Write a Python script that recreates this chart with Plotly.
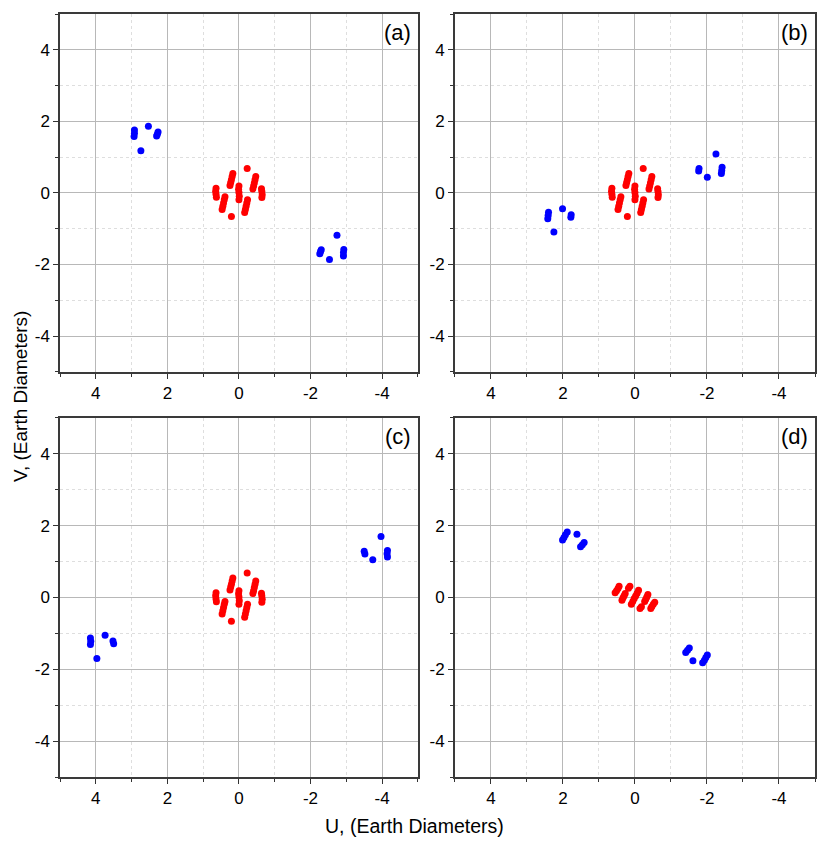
import plotly.graph_objects as go
from plotly.subplots import make_subplots

# red core cluster (same in panels a, b, c)
core_u = [0.64, 0.65, 0.64, 0.63,
          -0.64, -0.65, -0.64, -0.63,
          0.00, 0.01, 0.00, -0.01, 0.00,
          0.17, 0.19, 0.21, 0.23, 0.25,
          -0.16, -0.18, -0.20, -0.22, -0.24,
          -0.47, -0.45, -0.43, -0.41, -0.39,
          0.47, 0.45, 0.43, 0.41, 0.39,
          -0.23, 0.21]
core_v = [0.13, 0.05, -0.04, -0.12,
          -0.13, -0.05, 0.04, 0.12,
          0.19, 0.10, 0.01, -0.09, -0.19,
          0.54, 0.46, 0.37, 0.29, 0.21,
          -0.55, -0.46, -0.37, -0.28, -0.19,
          0.46, 0.37, 0.28, 0.19, 0.11,
          -0.46, -0.37, -0.28, -0.19, -0.11,
          0.68, -0.66]

# red core cluster, panel d
core_d_u = [0.55, 0.51, 0.47, 0.44,
            0.36, 0.33, 0.30, 0.27,
            0.18, 0.14,
            0.10, 0.06, 0.02, -0.02, -0.06, -0.10,
            -0.18, -0.14,
            -0.36, -0.33, -0.30, -0.27,
            -0.55, -0.51, -0.47, -0.44]
core_d_v = [0.13, 0.19, 0.25, 0.31,
            -0.08, -0.01, 0.05, 0.11,
            0.26, 0.31,
            -0.19, -0.11, -0.03, 0.04, 0.12, 0.20,
            -0.26, -0.31,
            0.08, 0.01, -0.05, -0.11,
            -0.13, -0.19, -0.25, -0.31]

# blue long-baseline points
blue_a_u = [2.92, 2.92, 2.93, 2.53, 2.26, 2.28, 2.30, 2.74,
            -2.92, -2.92, -2.93, -2.53, -2.26, -2.28, -2.30, -2.74]
blue_a_v = [1.76, 1.67, 1.58, 1.86, 1.70, 1.64, 1.59, 1.18,
            -1.76, -1.67, -1.58, -1.86, -1.70, -1.64, -1.59, -1.18]

blue_b_u = [2.40, 2.41, 2.42, 2.01, 1.77, 1.78, 2.25,
            -2.40, -2.41, -2.42, -2.01, -1.77, -1.78, -2.25]
blue_b_v = [-0.54, -0.63, -0.72, -0.44, -0.61, -0.68, -1.09,
            0.54, 0.63, 0.72, 0.44, 0.61, 0.68, 1.09]

blue_c_u = [4.15, 4.14, 4.15, 3.74, 3.52, 3.50, 3.97,
            -4.15, -4.14, -4.15, -3.74, -3.52, -3.50, -3.97]
blue_c_v = [-1.13, -1.22, -1.31, -1.05, -1.21, -1.29, -1.70,
            1.13, 1.22, 1.31, 1.05, 1.21, 1.29, 1.70]

blue_d_u = [2.01, 1.97, 1.93, 1.88, 1.61, 1.51, 1.46, 1.41,
            -2.01, -1.97, -1.93, -1.88, -1.61, -1.51, -1.46, -1.41]
blue_d_v = [1.60, 1.67, 1.75, 1.82, 1.76, 1.41, 1.47, 1.53,
            -1.60, -1.67, -1.75, -1.82, -1.76, -1.41, -1.47, -1.53]

panel_labels = ["(a)", "(b)", "(c)", "(d)"]
tick_vals = [-4, -2, 0, 2, 4]
tick_text = ["-4", "-2", "0", "2", "4"]
minor_vals = [-5, -3, -1, 1, 3, 5]

panels = [
    (core_u, core_v, blue_a_u, blue_a_v),
    (core_u, core_v, blue_b_u, blue_b_v),
    (core_u, core_v, blue_c_u, blue_c_v),
    (core_d_u, core_d_v, blue_d_u, blue_d_v),
]

FONT = "Liberation Sans, Arial, sans-serif"

fig = make_subplots(rows=2, cols=2, horizontal_spacing=0.049, vertical_spacing=0.06)

for i, (ru, rv, bu, bv) in enumerate(panels):
    row, col = i // 2 + 1, i % 2 + 1
    fig.add_trace(go.Scatter(x=ru, y=rv, mode="markers",
                             marker=dict(color="#ff0000", size=7, line=dict(width=0)),
                             showlegend=False), row=row, col=col)
    fig.add_trace(go.Scatter(x=bu, y=bv, mode="markers",
                             marker=dict(color="#0000ff", size=7, line=dict(width=0)),
                             showlegend=False), row=row, col=col)

axis_style = dict(
    tickmode="array", tickvals=tick_vals, ticktext=tick_text,
    ticks="outside", ticklen=5, tickwidth=1, tickcolor="#333333",
    showline=True, linecolor="#3a3a3a", linewidth=1.5, mirror=True,
    showgrid=True, gridcolor="#b8b8b8", gridwidth=1,
    zeroline=False,
    tickfont=dict(family=FONT, size=17, color="#000000"),
    minor=dict(tickmode="array", tickvals=minor_vals, ticks="outside",
               ticklen=3, tickcolor="#333333", showgrid=True,
               gridcolor="#dedede", griddash="dot", gridwidth=1),
)

fig.update_xaxes(range=[5, -5], **axis_style)
fig.update_yaxes(range=[-5, 5], **axis_style)

# subplot domains to match the reference layout
fig.update_layout(
    xaxis=dict(domain=[0.0, 0.474]), xaxis3=dict(domain=[0.0, 0.474]),
    xaxis2=dict(domain=[0.523, 1.0]), xaxis4=dict(domain=[0.523, 1.0]),
    yaxis=dict(domain=[0.531, 1.0]), yaxis2=dict(domain=[0.531, 1.0]),
    yaxis3=dict(domain=[0.0, 0.4706]), yaxis4=dict(domain=[0.0, 0.4706]),
)

for i, label in enumerate(panel_labels):
    suffix = "" if i == 0 else str(i + 1)
    fig.add_annotation(text=label, xref=f"x{suffix} domain", yref=f"y{suffix} domain",
                       x=0.985, y=0.99, xanchor="right", yanchor="top", showarrow=False,
                       font=dict(family=FONT, size=22, color="#000000"))

fig.add_annotation(text="U, (Earth Diameters)", xref="paper", yref="paper",
                   x=0.470, y=-0.064, xanchor="center", yanchor="middle", showarrow=False,
                   font=dict(family=FONT, size=19.5, color="#000000"))
fig.add_annotation(text="V, (Earth Diameters)", xref="paper", yref="paper",
                   x=-0.052, y=0.499, xanchor="center", yanchor="middle", showarrow=False,
                   textangle=-90, font=dict(family=FONT, size=19, color="#000000"))

fig.update_layout(
    width=830, height=860,
    margin=dict(l=52, r=23, t=4, b=91),
    paper_bgcolor="white", plot_bgcolor="white",
    showlegend=False,
)

fig.write_html("out.html")
